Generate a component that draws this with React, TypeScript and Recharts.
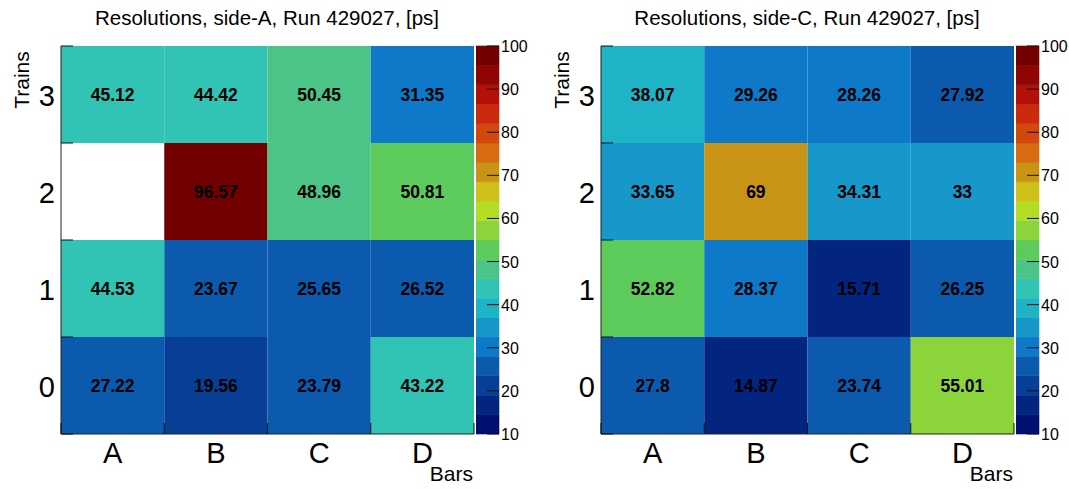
import { ComposedChart, XAxis, YAxis, ReferenceArea, Scatter } from "recharts"

const bars = ["A", "B", "C", "D"]
const trains = ["0", "1", "2", "3"]

// resolutions per train row, one value per bar (null = empty bin)
const sideATrain0 = [27.22, 19.56, 23.79, 43.22]
const sideATrain1 = [44.53, 23.67, 25.65, 26.52]
const sideATrain2 = [null, 96.57, 48.96, 50.81]
const sideATrain3 = [45.12, 44.42, 50.45, 31.35]

const sideCTrain0 = [27.8, 14.87, 23.74, 55.01]
const sideCTrain1 = [52.82, 28.37, 15.71, 26.25]
const sideCTrain2 = [33.65, 69, 34.31, 33]
const sideCTrain3 = [38.07, 29.26, 28.26, 27.92]

// 20 colour levels from zMin to zMax
const palette = [
  "#010f6f", "#03247f", "#073f96", "#0b5aad", "#0e79c9",
  "#1897cb", "#1fb3c7", "#31c3b3", "#4cc487", "#5ccb5c",
  "#8bd43c", "#b3dc27", "#cec11a", "#c99414", "#d86b12",
  "#d2480f", "#cb2a0f", "#b3100a", "#8f0504", "#720000",
]
const zMin = 10
const zMax = 100
const zTicks = [10, 20, 30, 40, 50, 60, 70, 80, 90, 100]

const binTicks = [0, 0.5, 1, 1.5, 2, 2.5, 3, 3.5, 4]
const font = "'Liberation Sans', Arial, Helvetica, sans-serif"

const step = (zMax - zMin) / palette.length

function colourFor(v: number) {
  const i = Math.floor((v - zMin) / step)
  return palette[Math.max(0, Math.min(palette.length - 1, i))]
}

type Cell = { x: number; y: number; col: number; row: number; v: number }

function toCells(rows: (number | null)[][]): Cell[] {
  const out: Cell[] = []
  rows.forEach((row, r) =>
    row.forEach((v, c) => {
      if (v != null) out.push({ x: c + 0.5, y: r + 0.5, col: c, row: r, v })
    })
  )
  return out
}

// band mid points, so the colour bar chart has a series to lay its axes out on
const bands = palette.map((c, i) => ({
  x: 0.5,
  y: zMin + (i + 0.5) * step,
  lo: zMin + i * step,
  hi: zMin + (i + 1) * step,
  fill: c,
}))

function BarTick(props: any) {
  const { x, y, payload } = props
  const v = payload.value
  if (Number.isInteger(v)) {
    return <line x1={x} y1={y} x2={x} y2={y - 11} stroke="#111" />
  }
  return (
    <text x={x} y={y + 29} textAnchor="middle" fontSize={29} fill="#000">
      {bars[Math.floor(v)]}
    </text>
  )
}

function TrainTick(props: any) {
  const { x, y, payload } = props
  const v = payload.value
  if (Number.isInteger(v)) {
    return <line x1={x} y1={y} x2={x + 12} y2={y} stroke="#111" />
  }
  return (
    <text x={x - 6} y={y + 11} textAnchor="end" fontSize={29} fill="#000">
      {trains[Math.floor(v)]}
    </text>
  )
}

function ZTick(props: any) {
  const { x, y, payload } = props
  return (
    <g>
      <line x1={x} y1={y} x2={x - 12} y2={y} stroke="#111" />
      <text x={x + 2} y={y + 6} textAnchor="start" fontSize={16} fill="#000">
        {payload.value}
      </text>
    </g>
  )
}

function CellLabel(props: any) {
  const { cx, cy, payload } = props
  return (
    <text
      x={cx}
      y={cy + 6}
      textAnchor="middle"
      fontSize={17.5}
      fontWeight="bold"
      fill="#000"
    >
      {String(payload.v)}
    </text>
  )
}

function ColourBar() {
  return (
    <div style={{ position: "absolute", left: 476, top: 0, width: 60, height: 489 }}>
      <ComposedChart width={60} height={489} margin={{ top: 46, right: 0, bottom: 55, left: 0 }}>
        {bands.map((b) => (
          <ReferenceArea
            key={b.fill}
            x1={0}
            x2={1}
            y1={b.lo}
            y2={b.hi}
            fill={b.fill}
            fillOpacity={1}
            stroke={b.fill}
            strokeWidth={0.6}
          />
        ))}
        <Scatter data={bands} isAnimationActive={false} shape={() => <g />} />
        <XAxis type="number" dataKey="x" domain={[0, 1]} hide />
        <YAxis
          type="number"
          dataKey="y"
          orientation="right"
          domain={[zMin, zMax]}
          ticks={zTicks}
          interval={0}
          width={37}
          tickSize={0}
          tickMargin={0}
          axisLine={false}
          tickLine={false}
          tick={<ZTick />}
        />
      </ComposedChart>
    </div>
  )
}

interface PanelProps {
  title: string
  rows: (number | null)[][]
  left: number
}

function Panel({ title, rows, left }: PanelProps) {
  const cells = toCells(rows)
  return (
    <div style={{ position: "absolute", left, top: 0, width: 536, height: 489 }}>
      <ComposedChart width={480} height={489} margin={{ top: 46, right: 6, bottom: 0, left: 0 }}>
        {cells.map((d) => (
          <ReferenceArea
            key={`${d.col}-${d.row}`}
            x1={d.col}
            x2={d.col + 1}
            y1={d.row}
            y2={d.row + 1}
            fill={colourFor(d.v)}
            fillOpacity={1}
            stroke="none"
          />
        ))}
        <Scatter data={cells} isAnimationActive={false} shape={<CellLabel />} />
        <XAxis
          type="number"
          dataKey="x"
          domain={[0, 4]}
          ticks={binTicks}
          interval={0}
          height={55}
          tickSize={0}
          tickMargin={0}
          tickLine={false}
          axisLine={{ stroke: "#222" }}
          tick={<BarTick />}
        />
        <YAxis
          type="number"
          dataKey="y"
          domain={[0, 4]}
          ticks={binTicks}
          interval={0}
          width={61}
          tickSize={0}
          tickMargin={0}
          tickLine={false}
          axisLine={{ stroke: "#222" }}
          tick={<TrainTick />}
        />
      </ComposedChart>
      <ColourBar />
      <svg width={530} height={489} style={{ position: "absolute", left: 0, top: 0, pointerEvents: "none" }}>
        <text x={267} y={25} textAnchor="middle" fontSize={20.5} fill="#000">
          {title}
        </text>
        <text x={29} y={80} textAnchor="middle" fontSize={21} fill="#000" transform="rotate(-90 29 80)">
          Trains
        </text>
        <text x={473} y={481} textAnchor="end" fontSize={21} fill="#000">
          Bars
        </text>
      </svg>
    </div>
  )
}

export default function App() {
  return (
    <div
      style={{
        position: "absolute",
        left: 0,
        top: 0,
        width: 1069,
        height: 489,
        overflow: "hidden",
        background: "#fff",
        fontFamily: font,
      }}
    >
      <Panel
        title="Resolutions, side-A, Run 429027, [ps]"
        rows={[sideATrain0, sideATrain1, sideATrain2, sideATrain3]}
        left={0}
      />
      <Panel
        title="Resolutions, side-C, Run 429027, [ps]"
        rows={[sideCTrain0, sideCTrain1, sideCTrain2, sideCTrain3]}
        left={540}
      />
    </div>
  )
}
